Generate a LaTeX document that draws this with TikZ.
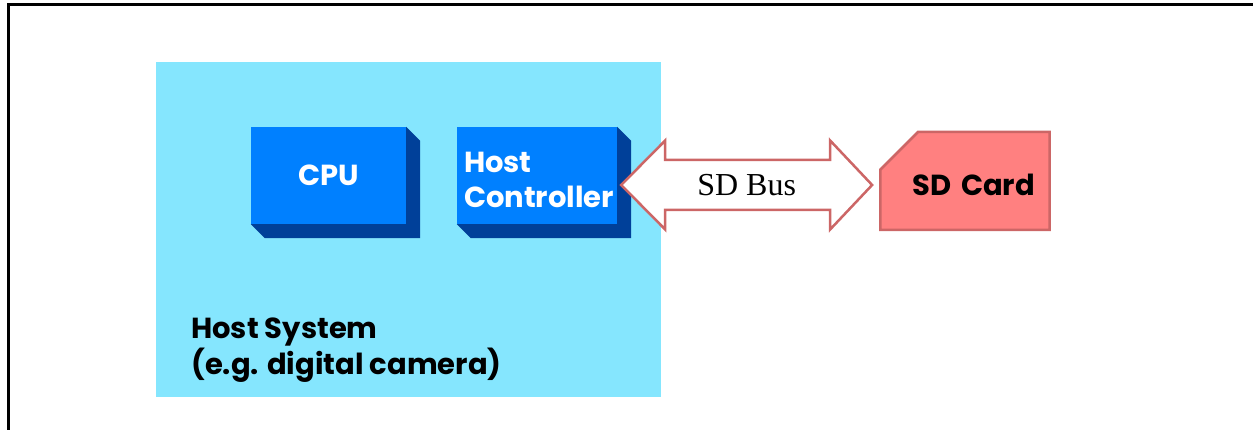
\documentclass[tikz,border=0pt]{standalone}
\usepackage{fontspec}
\setmainfont{Liberation Serif}
\setsansfont{Poppins}
\usepackage{tikz}
\usetikzlibrary{shapes.misc, positioning, calc}
\definecolor{hostbg}{HTML}{85E6FE}
\definecolor{blockfront}{HTML}{0080FF}
\definecolor{blockside}{HTML}{004099}
\definecolor{cardfill}{HTML}{FF8080}
\definecolor{cardline}{HTML}{CC6666}
\tikzset{
  host/.style={fill=hostbg, minimum width=505pt, minimum height=335pt, inner sep=0pt},
  hostlabel/.style={align=left, inner sep=0pt, font=\sffamily\bfseries\fontsize{29}{34}\selectfont},
  block/.style={fill=blockfront, text=white, minimum width=155pt, minimum height=97pt,
    inner sep=0pt, font=\sffamily\bfseries\fontsize{29}{35}\selectfont},
  blockshade/.style={fill=blockside},
  busline/.style={draw=cardline, fill=white, line width=2.5pt, line join=miter},
  buslabel/.style={inner sep=0pt, font=\fontsize{32}{37}\selectfont},
  card/.style={chamfered rectangle, chamfered rectangle corners=north west,
    chamfered rectangle xsep=23pt, chamfered rectangle ysep=23pt,
    fill=cardfill, draw=cardline, line width=2.5pt, minimum height=98pt,
    text width=140pt, text height=29pt, inner xsep=0pt, inner ysep=0pt, align=right,
    font=\sffamily\bfseries\fontsize{29}{35}\selectfont}
}
\begin{document}
\begin{tikzpicture}[x=1pt, y=-1pt]
  \useasboundingbox (0,0) rectangle (1253,430);
  % frame
  \draw[line width=3pt] (8,430) -- (8,5) -- (1253,5);

  % host system
  \node[host, anchor=north west] (host) at (156,62) {};
  \node[hostlabel, anchor=north west] (hostlbl) at (191,318) {Host System\\(e.g. digital camera)};

  % blocks
  \node[block] (cpu) at (328.5,175.5) {CPU};
  \node[block, minimum width=160pt, text width=146pt, align=left] (hc) at (537,175.5) {\rule{0pt}{30pt}Host\\Controller};
  \foreach \b in {cpu, hc}
    \fill[blockshade] (\b.north east) -- ++(14,14) -- ([shift={(14,14)}]\b.south east)
      -- ([shift={(14,14)}]\b.south west) -- (\b.south west) -- (\b.south east) -- cycle;

  % card
  \node[card] (card) at (965,181) {SD Card};

  % bus (double block arrow)
  \coordinate (busL) at ([shift={(4,9.5)}]hc.east);
  \coordinate (busR) at ([shift={(-7,4)}]card.west);
  \draw[busline] (busL) -- ++(44,-44.5) -- ++(0,19.5) -- ($(busR)+(-42,-25)$)
    -- ++(0,-19.5) -- (busR) -- ++(-42,44.5) -- ++(0,-19.5) -- ($(busL)+(44,25)$)
    -- ++(0,19.5) -- cycle;
  \node[buslabel] (bus) at ($(busL)!0.5!(busR)$) {SD Bus};
\end{tikzpicture}
\end{document}
